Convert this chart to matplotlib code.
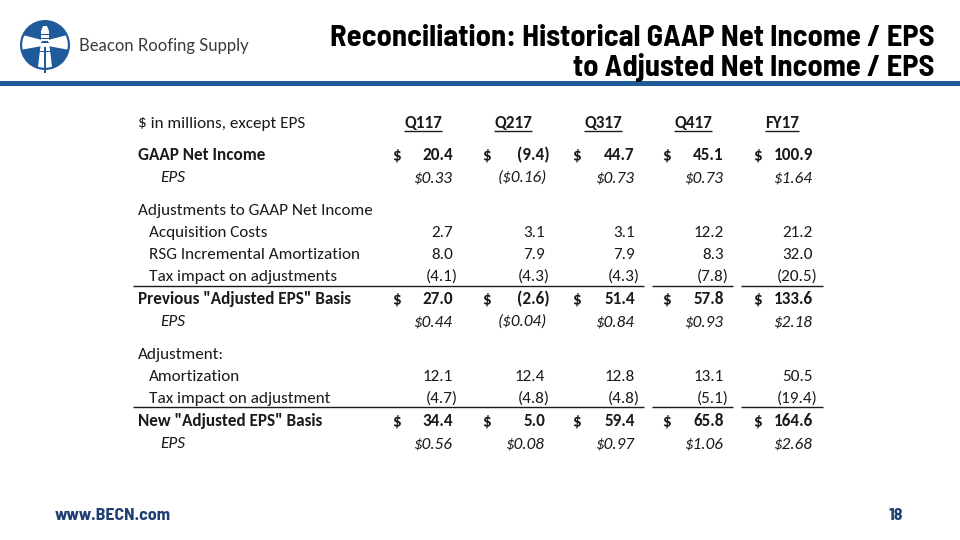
import matplotlib
matplotlib.use("Agg")
import matplotlib.pyplot as plt
from matplotlib import font_manager
from matplotlib.patches import Circle, Polygon, Rectangle

# ---------------- data ----------------
columns = ["Q117", "Q217", "Q317", "Q417", "FY17"]
gaap_net_income = [20.4, -9.4, 44.7, 45.1, 100.9]
gaap_eps = [0.33, -0.16, 0.73, 0.73, 1.64]
acquisition_costs = [2.7, 3.1, 3.1, 12.2, 21.2]
rsg_amortization = [8.0, 7.9, 7.9, 8.3, 32.0]
tax_impact_adjustments = [-4.1, -4.3, -4.3, -7.8, -20.5]
prev_adjusted = [27.0, -2.6, 51.4, 57.8, 133.6]
prev_eps = [0.44, -0.04, 0.84, 0.93, 2.18]
amortization = [12.1, 12.4, 12.8, 13.1, 50.5]
tax_impact_adjustment = [-4.7, -4.8, -4.8, -5.1, -19.4]
new_adjusted = [34.4, 5.0, 59.4, 65.8, 164.6]
new_eps = [0.56, 0.08, 0.97, 1.06, 2.68]

title_lines = ["Reconciliation: Historical GAAP Net Income / EPS",
               "to Adjusted Net Income / EPS"]
unit_label = "$ in millions, except EPS"

# ---------------- setup ----------------
W, H = 960, 540
fig = plt.figure(figsize=(9.6, 5.4), dpi=100)
ax = fig.add_axes([0, 0, 1, 1])
ax.set_xlim(0, W)
ax.set_ylim(H, 0)
ax.axis("off")
renderer = fig.canvas.get_renderer()

entries = font_manager.fontManager.ttflist
avail = {f.name for f in entries}


def _w(f):
    w = f.weight
    if isinstance(w, str):
        w = font_manager.weight_dict.get(w, 400)
    return w


bold_avail = {f.name for f in entries if _w(f) >= 600 and f.style == "normal"}


def pick(*names, bold=False):
    pool = bold_avail if bold else avail
    for n in names:
        if n in pool:
            return n
    return "DejaVu Sans"


body_font = pick("Carlito", "Lato", "Open Sans")
title_font = pick("Liberation Sans Narrow", "Arial Narrow", "Archivo Narrow",
                  "Barlow Semi Condensed", "Encode Sans Semi Condensed", "Asap Condensed",
                  "Cabin Condensed", "Encode Sans Condensed", "Barlow Condensed",
                  "DejaVu Sans Condensed", "Liberation Sans", bold=True)
logo_font = pick("Lato", "Open Sans")

TXT = "#1a1a1a"


def width_of(s, **kw):
    t = ax.text(0, 0, s, parse_math=False, **kw)
    w = t.get_window_extent(renderer).width
    t.remove()
    return w


def fit(s, target, base=20, **kw):
    return base * target / width_of(s, fontsize=base, **kw)


def txt(x, y, s, **kw):
    kw.setdefault("color", TXT)
    kw.setdefault("va", "baseline")
    return ax.text(x, y, s, parse_math=False, **kw)


# ---------------- header band ----------------
ax.add_patch(Rectangle((0, 81), W, 4.5, color="#1d5c96", lw=0))

title_size = fit(title_lines[0], 628, family=title_font, weight="bold")
title_size = min(title_size, 22)
txt(934, 46, title_lines[0], ha="right", family=title_font, weight="bold",
    fontsize=title_size, color="black")
txt(934, 76, title_lines[1], ha="right", family=title_font, weight="bold",
    fontsize=title_size, color="black")

# logo
LB = "#1f5b9b"
cx, cy, r = 45, 45, 25
circ = Circle((cx, cy), r, color=LB, lw=0)
ax.add_patch(circ)
clip = Circle((cx, cy), r - 2.2, transform=ax.transData)
parts = [
    Polygon([(cx - 3, cy - 5), (cx - 30, cy - 12), (cx - 30, cy + 6), (cx - 3, cy + 1)], closed=True),
    Polygon([(cx + 3, cy - 5), (cx + 30, cy - 12), (cx + 30, cy + 6), (cx + 3, cy + 1)], closed=True),
    Polygon([(cx - 4, cy - 3), (cx + 4, cy - 3), (cx + 8, cy + 30), (cx - 8, cy + 30)], closed=True),
    Polygon([(cx - 4, cy - 14), (cx + 4, cy - 14), (cx + 4, cy - 4), (cx - 4, cy - 4)], closed=True),
]
for p in parts:
    p.set_facecolor("white")
    p.set_edgecolor("none")
    ax.add_patch(p)
    p.set_clip_path(clip)
for yy in (cy - 11, cy - 7, cy - 3.5):
    ax.add_patch(Rectangle((cx - 4, yy), 8, 1.2, color=LB, lw=0))
ax.add_patch(Polygon([(cx - 2, cy - 19), (cx + 2, cy - 19), (cx + 4, cy - 14), (cx - 4, cy - 14)],
                     closed=True, facecolor="white", edgecolor="none"))
ax.add_patch(Rectangle((cx - 0.8, cy + 2), 1.6, 26, color=LB, lw=0))
ax.add_patch(Rectangle((cx - 6, cy + 6), 12, 1.3, color=LB, lw=0))

logo_text = "Beacon Roofing Supply"
logo_size = fit(logo_text, 170, family=logo_font)
txt(79, 51, logo_text, family=logo_font, fontsize=logo_size, color="#3a3a3a")

# ---------------- table ----------------
body_size = fit("Adjustments to GAAP Net Income", 234, family=body_font)

col_dollar_x = [392, 482, 572, 662, 753]
col_right = [453, 545, 635, 724, 813]
header_cx = [423, 513, 603, 693, 782]
PAREN = 5


def fmt_num(v):
    return f"{v:.1f}" if v >= 0 else f"({abs(v):.1f})"


def fmt_eps(v):
    return f"${v:.2f}" if v >= 0 else f"(${abs(v):.2f})"


# header row
txt(138, 128, unit_label, family=body_font, fontsize=body_size)
for c, name in zip(header_cx, columns):
    t = txt(c, 128, name, ha="center", family=body_font, fontsize=body_size, weight="bold")
    bb = t.get_window_extent(renderer)
    ax.plot([c - bb.width / 2, c + bb.width / 2], [131, 131], color=TXT, lw=1.0,
            solid_capstyle="butt")

rows = [
    ("GAAP Net Income", gaap_net_income, "bold", 138, 160),
    ("EPS", gaap_eps, "eps", 160, 182),
    ("Adjustments to GAAP Net Income", None, "head", 138, 215),
    ("Acquisition Costs", acquisition_costs, "num", 149, 237),
    ("RSG Incremental Amortization", rsg_amortization, "num", 149, 259),
    ("Tax impact on adjustments", tax_impact_adjustments, "num", 149, 281),
    ('Previous "Adjusted EPS" Basis', prev_adjusted, "bold", 138, 304),
    ("EPS", prev_eps, "eps", 160, 326),
    ("Adjustment:", None, "head", 138, 359),
    ("Amortization", amortization, "num", 149, 381),
    ("Tax impact on adjustment", tax_impact_adjustment, "num", 149, 403),
    ('New "Adjusted EPS" Basis', new_adjusted, "bold", 138, 426),
    ("EPS", new_eps, "eps", 160, 448),
]

for label, vals, kind, lx, by in rows:
    weight = "bold" if kind == "bold" else "normal"
    style = "italic" if kind == "eps" else "normal"
    txt(lx, by, label, family=body_font, fontsize=body_size, weight=weight, style=style)
    if vals is None:
        continue
    for i, v in enumerate(vals):
        if kind == "eps":
            s = fmt_eps(v)
            xr = col_right[i] - 1 if v >= 0 else col_right[i] + 2
        else:
            s = fmt_num(v)
            xr = col_right[i] if v >= 0 else col_right[i] + PAREN
        txt(xr, by, s, ha="right", family=body_font, fontsize=body_size,
            weight=weight, style=style)
        if kind == "bold":
            txt(col_dollar_x[i], by, "$", family=body_font, fontsize=body_size, weight="bold")

# subtotal rules
segments = [(133, 644), (652, 733), (741, 823)]
for yline in (286, 407):
    for x0, x1 in segments:
        ax.plot([x0, x1], [yline, yline], color=TXT, lw=1.0, solid_capstyle="butt")

# ---------------- footer ----------------
FOOT = "#1f3f73"
foot_size = fit("www.BECN.com", 116, family=title_font, weight="bold")
txt(55, 520, "www.BECN.com", family=title_font, weight="bold", fontsize=foot_size, color=FOOT)
txt(903, 520, "18", ha="right", family=title_font, weight="bold", fontsize=foot_size, color=FOOT)

fig.savefig("out.png", dpi=100)
